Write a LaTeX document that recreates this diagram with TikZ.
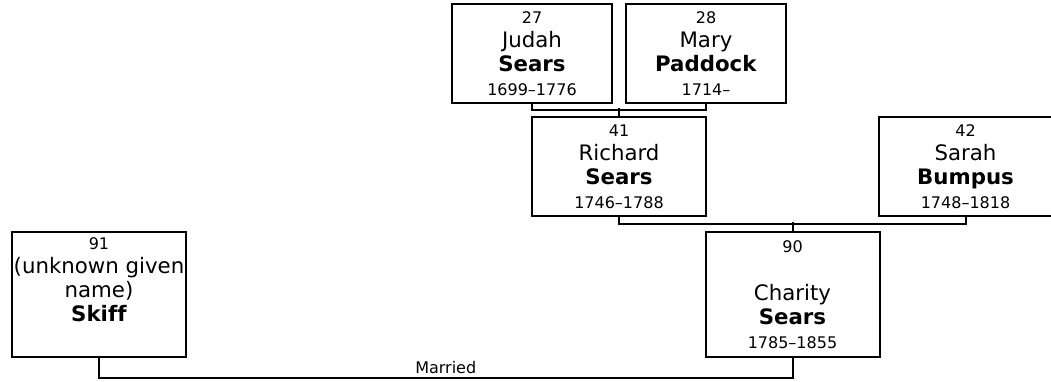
\documentclass[tikz,border=0pt]{standalone}
\usepackage{fontspec}
\setmainfont{DejaVu Sans}[Ligatures=NoCommon]
\usepackage{tikz}
\usetikzlibrary{positioning,calc}
\newcommand{\smtext}[1]{{\fontsize{16}{24}\selectfont #1}}
\tikzset{
  person/.style={draw, line width=2pt, align=center, inner sep=1pt,
    font=\fontsize{21.3}{24}\selectfont},
  gen/.style={minimum width=160pt, minimum height=99pt},
  wide/.style={minimum width=174pt, minimum height=99pt},
  tall/.style={minimum width=174pt, minimum height=125pt},
  link/.style={line width=2pt},
  rel/.style={font=\fontsize{16}{24}\selectfont, inner sep=3pt}}

\begin{document}
\begin{tikzpicture}[x=1pt, y=-1pt]
  \useasboundingbox (0,0) rectangle (1051,381);
  % ---- grandparents
  \node[person, gen] (judah) at (532,53.5)
    {\smtext{27}\\Judah\\\textbf{Sears}\\\smtext{1699--1776}};
  \node[person, gen] (mary) at (706,53.5)
    {\smtext{28}\\Mary\\\textbf{Paddock}\\\smtext{1714--}};
  % ---- parents
  \node[person, wide] (richard) at (619,166.5)
    {\smtext{41}\\Richard\\\textbf{Sears}\\\smtext{1746--1788}};
  \node[person, wide] (sarah) at (965.5,166.5)
    {\smtext{42}\\Sarah\\\textbf{Bumpus}\\\smtext{1748--1818}};
  % ---- the couple
  \node[person, tall] (skiff) at (99,294.5)
    {\smtext{91}\\(unknown given\\name)\\\textbf{Skiff}\\[6pt]\mbox{}};
  \node[person, tall] (charity) at (792.5,294.5)
    {\smtext{90}\\\mbox{}\\Charity\\\textbf{Sears}\\\smtext{1785--1855}};
  % ---- family lines
  \draw[link] (judah.south) -- ++(0,6) -| (mary.south);
  \draw[link] (richard.north) -- ++(0,-8);
  \draw[link] (richard.south) -- ++(0,7) -| (sarah.south);
  \draw[link] (charity.north) -- ++(0,-9);
  \draw[link] (skiff.south) -- ++(0,20) -| node[pos=0.25, above, rel] {Married}
    (charity.south);
\end{tikzpicture}
\end{document}
